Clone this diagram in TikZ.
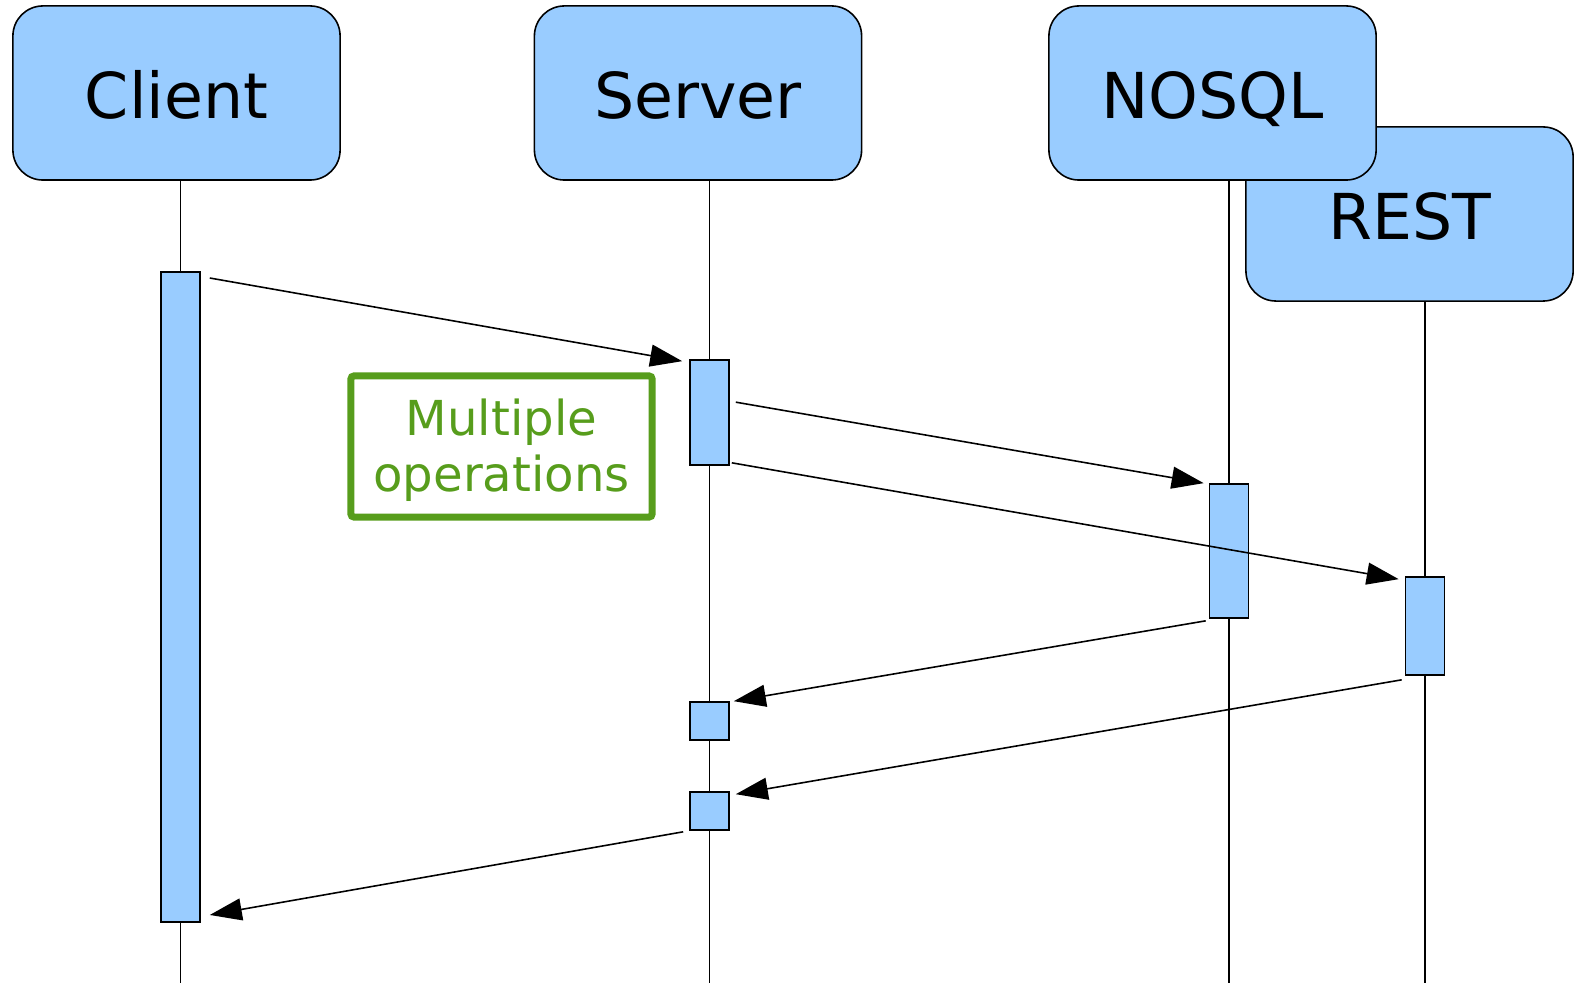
\documentclass[tikz,border=0pt]{standalone}
\usepackage{fontspec}
\setmainfont{DejaVu Sans}
\usetikzlibrary{arrows.meta}

\definecolor{boxblue}{HTML}{99CCFF}
\definecolor{opgreen}{HTML}{579D1C}

\tikzset{
  actor/.style={draw, fill=boxblue, rounded corners=0.3cm, minimum width=3.27cm, minimum height=1.74cm, inner sep=0pt, text height=14.6pt, text depth=0pt, font=\fontsize{18}{21}\selectfont},
  bar/.style={draw, fill=boxblue, minimum width=0.39cm, inner sep=0pt},
  msg/.style={-{Triangle[length=0.32cm,width=0.22cm]}},
}

\begin{document}
\begin{tikzpicture}[x=0.01cm, y=-0.01cm, line width=0.45pt]
\useasboundingbox (0,0) rectangle (1577,983);

\node[actor] (client) at (176.5,93) {Client};
\node[actor] (server) at (698,93) {Server};
\node[actor] (rest) at (1409.5,214) {REST};
\node[actor] (nosql) at (1212.5,93) {NOSQL};

\coordinate (cend) at (180.5,983);
\coordinate (send) at (709.5,983);
\coordinate (nend) at (1229,983);
\coordinate (rend) at (1425,983);

\path[draw] (client.south -| cend) -- (cend);
\path[draw] (server.south -| send) -- (send);
\path[draw] (nosql.south -| nend) -- (nend);
\path[draw] (rest.south -| rend) -- (rend);

\node[bar, minimum height=6.5cm] (cbar) at (180.5,597) {};
\node[bar, minimum height=1.05cm] (sbar1) at (709.5,412.5) {};
\node[bar, minimum height=1.34cm] (nbar) at (1229,551) {};
\node[bar, minimum height=0.98cm] (rbar) at (1425,626) {};
\node[bar, minimum height=0.38cm] (sbar2) at (709.5,721) {};
\node[bar, minimum height=0.38cm] (sbar3) at (709.5,811) {};

\node[draw=opgreen, line width=0.07cm, text=opgreen, align=center, minimum width=3.01cm, minimum height=1.41cm, rounded corners=0.03cm, inner sep=0pt, text height=29.7pt, text depth=4pt, font=\fontsize{13.7}{16}\selectfont] (ops) at (501.5,446.5) {Multiple\\operations};

\path[draw,msg] ([shift={(9,7)}]cbar.north east) -- ([shift={(-7,2)}]sbar1.north west);
\path[draw,msg] ([shift={(6,43)}]sbar1.north east) -- ([shift={(-5,0)}]nbar.north west);
\path[draw,msg] ([shift={(2,-3)}]sbar1.south east) -- ([shift={(-6,3)}]rbar.north west);
\path[draw,msg] ([shift={(-3,2)}]nbar.south west) -- ([shift={(4,0)}]sbar2.north east);
\path[draw,msg] ([shift={(-3,4)}]rbar.south west) -- ([shift={(6,3)}]sbar3.north east);
\path[draw,msg] ([shift={(-6,1)}]sbar3.south west) -- ([shift={(9,-8)}]cbar.south east);

\end{tikzpicture}
\end{document}
